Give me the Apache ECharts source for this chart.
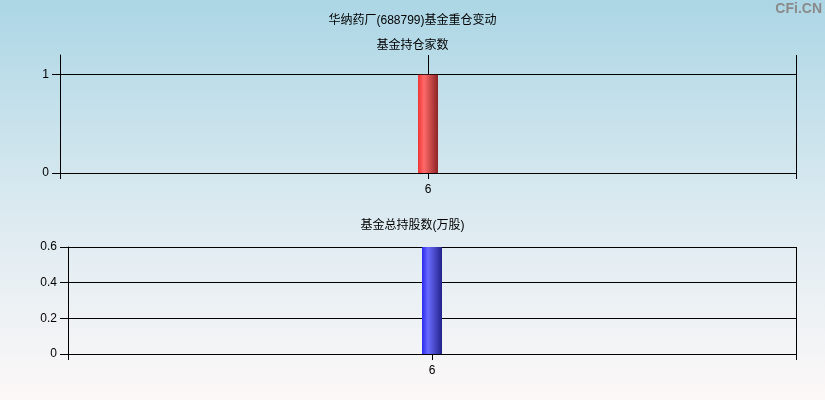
<!DOCTYPE html>
<html><head><meta charset="utf-8">
<script src="https://cdn.jsdelivr.net/npm/echarts@6/dist/echarts.min.js"></script>
<style>html,body{margin:0;padding:0;}#c{width:825px;height:400px;}</style>
</head><body><div id="c"></div>
<script>
const mainTitle = '华纳药厂(688799)基金重仓变动';
const topTitle = '基金持仓家数';
const bottomTitle = '基金总持股数(万股)';
const categories = ['6'];
const fundCount = [1];
const fundShares = [0.6];
const topTicks = [0, 1];

const chart = echarts.init(document.getElementById('c'));
const font = '"Liberation Sans","Noto Sans CJK SC",sans-serif';
function grad(c0, c1, c2) {
  return {type:'linear', x:0, y:0, x2:1, y2:0, colorStops:[
    {offset:0, color:c0},{offset:0.3, color:c1},{offset:1, color:c2}]};
}
const xCommon = {
  type:'value', min:5, max:7, interval:1,
  axisLine:{show:true, lineStyle:{color:'#000', width:1}},
  axisTick:{show:true, length:6, lineStyle:{color:'#000'}},
  axisLabel:{color:'#000', fontSize:12, fontFamily:font, margin:11,
    formatter: v => categories.indexOf(String(v)) >= 0 ? String(v) : ''},
  splitLine:{show:true, lineStyle:{color:'#000', width:1}}
};
const xNum = categories.map(Number);
chart.setOption({
  backgroundColor:{type:'linear', x:0, y:0, x2:0, y2:1, colorStops:[
    {offset:0, color:'#acd6e5'},{offset:0.5, color:'#d9e9f0'},{offset:1, color:'#fdf8f8'}]},
  animation:false,
  title:[
    {text:mainTitle, left:'center', top:10, textStyle:{fontSize:12, fontWeight:'normal', color:'#000', fontFamily:font}},
    {text:topTitle, left:'center', top:35, textStyle:{fontSize:12, fontWeight:'normal', color:'#000', fontFamily:font}},
    {text:bottomTitle, left:'center', top:215, textStyle:{fontSize:12, fontWeight:'normal', color:'#000', fontFamily:font}}
  ],
  graphic:[{type:'text', right:3, top:2, style:{text:'CFi.CN', fontSize:14, fontWeight:'bold', fill:'#8a8a8a', fontFamily:'"Liberation Sans",sans-serif'}}],
  grid:[
    {left:60, right:29, top:55, bottom:227},
    {left:68, right:29, top:247, bottom:46}
  ],
  xAxis:[
    Object.assign({gridIndex:0}, xCommon),
    Object.assign({gridIndex:1}, xCommon)
  ],
  yAxis:[
    {gridIndex:0, type:'value', min:0, max:1.2, interval:1,
      axisLine:{show:true, lineStyle:{color:'#000'}},
      axisTick:{show:true, length:8, customValues:topTicks, lineStyle:{color:'#000'}},
      axisLabel:{color:'#000', fontSize:12, fontFamily:font, margin:11, customValues:topTicks},
      splitLine:{show:false}},
    {gridIndex:1, type:'value', min:0, max:0.6, interval:0.2,
      axisLine:{show:true, lineStyle:{color:'#000'}},
      axisTick:{show:true, length:8, lineStyle:{color:'#000'}},
      axisLabel:{color:'#000', fontSize:12, fontFamily:font, margin:11},
      splitLine:{show:true, lineStyle:{color:'#000', width:1}}}
  ],
  series:[
    {type:'bar', xAxisIndex:0, yAxisIndex:0, barWidth:20,
      data: xNum.map((x,i)=>[x, fundCount[i]]),
      itemStyle:{color:grad('#f03434','#ff6a6a','#8c2424')},
      markLine:{silent:true, symbol:'none', label:{show:false}, z:1,
        lineStyle:{color:'#000', width:1, type:'solid'},
        data:[{yAxis:topTicks[1]}]}},
    {type:'bar', xAxisIndex:1, yAxisIndex:1, barWidth:20,
      data: xNum.map((x,i)=>[x, fundShares[i]]),
      itemStyle:{color:grad('#2a2af0','#6a6aff','#22228a')}}
  ]
});
</script></body></html>
